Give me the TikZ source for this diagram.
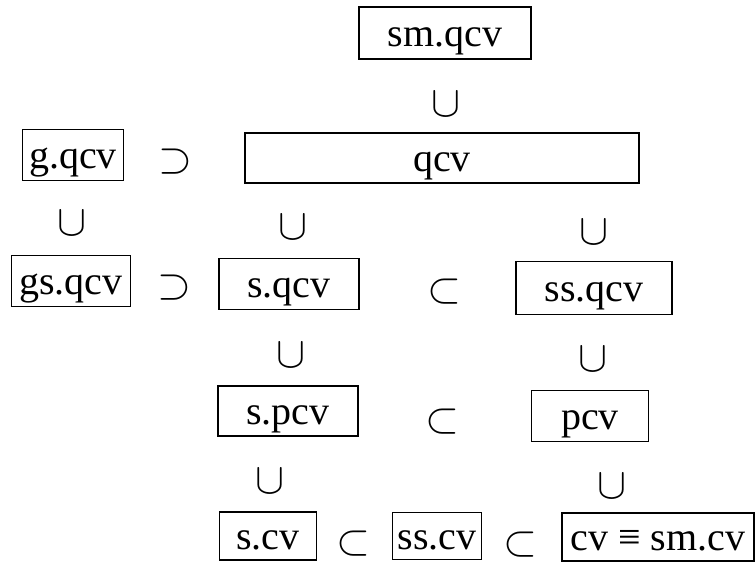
\documentclass[tikz,border=0pt]{standalone}
\usepackage{fontspec}
\setmainfont{Liberation Serif}
\begin{document}
\begin{tikzpicture}[x=1pt,y=-1pt,
  setbox/.style={draw, line width=1.8pt, inner sep=0pt, anchor=center,
    text height=30pt, text depth=3pt,
    font=\fontsize{40}{48}\selectfont},
  rel/.style={inner sep=0pt, anchor=center, font=\fontsize{20.74}{24}\selectfont,
    scale=2.1, transform shape}]
\useasboundingbox (0,0) rectangle (756,567);
% row 0
\node[setbox, minimum width=172pt, minimum height=52pt] (smqcv) at (445,33) {sm.qcv};
\node[rel] (cupA) at (446,104) {$\cup$};
% row 1
\node[setbox, minimum width=101pt, minimum height=51pt] (gqcv) at (73,155) {g.qcv};
\node[rel] (supA) at (175,162) {$\supset$};
\node[setbox, minimum width=394pt, minimum height=50pt] (qcv) at (442,158) {qcv};
% cups
\node[rel] (cupB) at (72,223) {$\cup$};
\node[rel] (cupC) at (293,227) {$\cup$};
\node[rel] (cupD) at (594,232) {$\cup$};
% row 2
\node[setbox, minimum width=119pt, minimum height=51pt] (gsqcv) at (71,281) {gs.qcv};
\node[rel] (supB) at (174,288) {$\supset$};
\node[setbox, minimum width=140pt, minimum height=51pt] (sqcv) at (289,284) {s.qcv};
\node[rel] (subA) at (444,292) {$\subset$};
\node[setbox, minimum width=156pt, minimum height=53pt] (ssqcv) at (594,288) {ss.qcv};
% cups
\node[rel] (cupE) at (291,355) {$\cup$};
\node[rel] (cupF) at (593,359) {$\cup$};
% row 3
\node[setbox, minimum width=140pt, minimum height=50pt] (spcv) at (288,411) {s.pcv};
\node[rel] (subB) at (442,422) {$\subset$};
\node[setbox, minimum width=117pt, minimum height=51pt] (pcv) at (590,416) {pcv};
% cups
\node[rel] (cupG) at (270,481) {$\cup$};
\node[rel] (cupH) at (612,486) {$\cup$};
% row 4
\node[setbox, minimum width=97pt, minimum height=48pt] (scv) at (268,536) {s.cv};
\node[rel] (subC) at (353,544) {$\subset$};
\node[setbox, minimum width=89pt, minimum height=47pt] (sscv) at (437,536) {ss.cv};
\node[rel] (subD) at (520,545) {$\subset$};
\node[setbox, minimum width=192pt, minimum height=48pt] (cv) at (658,537) {cv ≡ sm.cv};
\end{tikzpicture}
\end{document}
